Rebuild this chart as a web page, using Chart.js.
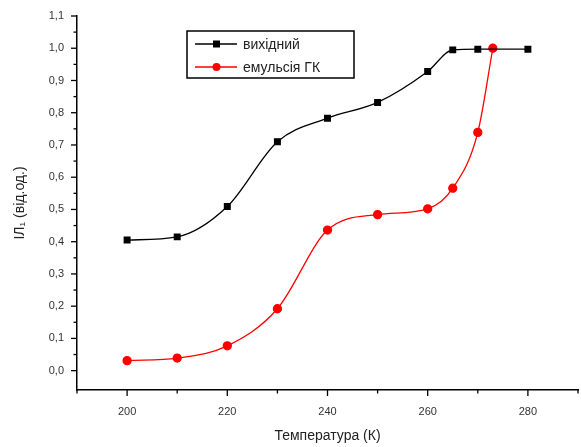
<!DOCTYPE html>
<html>
<head>
<meta charset="utf-8">
<script src="https://cdn.jsdelivr.net/npm/chart.js@4.4.1/dist/chart.umd.min.js"></script>
<style>
  body { margin: 0; background: #fff; }
  #wrap { width: 581px; height: 447px; position: relative; }
</style>
</head>
<body>
<div id="wrap"><canvas id="myChart"></canvas></div>
<script>
// DATA
const tempOrig = [200, 210, 220, 230, 240, 250, 260, 265, 270, 280];
const valOrig = [0.405, 0.415, 0.509, 0.71, 0.783, 0.832, 0.928, 0.995, 0.997, 0.997];
const tempEmul = [200, 210, 220, 230, 240, 250, 260, 265, 270, 273];
const valEmul = [0.031, 0.039, 0.077, 0.192, 0.436, 0.484, 0.502, 0.566, 0.739, 1.0];
const seriesNames = ["вихідний", "емульсія ГК"];
const xLabelTicks = [200, 220, 240, 260, 280];

function toPoints(xs, ys) {
  return xs.map((x, i) => ({ x: x, y: ys[i] }));
}

// custom ticks (major + minor) drawn from the scales
const tickPlugin = {
  id: "tickMarks",
  afterDraw(chart) {
    const ctx = chart.ctx;
    const xs = chart.scales.x, ys = chart.scales.y;
    ctx.save();
    ctx.strokeStyle = "#000";
    ctx.lineWidth = 1.3;
    ys.ticks.forEach(t => {
      const v = t.value;
      if (v < -0.001) return;
      const major = Math.abs(v * 10 - Math.round(v * 10)) < 1e-6;
      const py = ys.getPixelForValue(v);
      ctx.beginPath();
      ctx.moveTo(xs.left, py);
      ctx.lineTo(xs.left - (major ? 6 : 3.5), py);
      ctx.stroke();
    });
    xs.ticks.forEach(t => {
      const v = t.value;
      const major = xLabelTicks.includes(v);
      const px = xs.getPixelForValue(v);
      ctx.beginPath();
      ctx.moveTo(px, ys.bottom);
      ctx.lineTo(px, ys.bottom + (major ? 6 : 3.5));
      ctx.stroke();
    });
    ctx.restore();
  }
};

// legend box inside the plot
const legendPlugin = {
  id: "boxLegend",
  afterDraw(chart) {
    const ctx = chart.ctx;
    const left = 187, top = 31, w = 167, h = 47;
    ctx.save();
    ctx.strokeStyle = "#000";
    ctx.lineWidth = 1.5;
    ctx.strokeRect(left, top, w, h);
    const rows = [top + 13, top + 36];
    chart.data.datasets.forEach((ds, i) => {
      const y = rows[i];
      ctx.strokeStyle = ds.borderColor;
      ctx.lineWidth = 1.3;
      ctx.beginPath();
      ctx.moveTo(left + 8, y);
      ctx.lineTo(left + 50, y);
      ctx.stroke();
      ctx.fillStyle = ds.pointBackgroundColor;
      if (ds.pointStyle === "rect") {
        ctx.fillRect(left + 26, y - 3.5, 7, 7);
      } else {
        ctx.beginPath();
        ctx.arc(left + 29.5, y, 4, 0, Math.PI * 2);
        ctx.fill();
      }
      ctx.fillStyle = "#222";
      ctx.font = "14px 'Liberation Sans', Arial, sans-serif";
      ctx.textBaseline = "middle";
      ctx.fillText(ds.label, left + 56, y + 1);
    });
    ctx.restore();
  }
};

const ctx = document.getElementById("myChart").getContext("2d");
new Chart(ctx, {
  type: "line",
  data: {
    datasets: [
      {
        label: seriesNames[0],
        data: toPoints(tempOrig, valOrig),
        borderColor: "#000",
        pointBackgroundColor: "#000",
        pointBorderColor: "#000",
        pointStyle: "rect",
        pointRadius: 4,
        borderWidth: 1.3,
        cubicInterpolationMode: "monotone"
      },
      {
        label: seriesNames[1],
        data: toPoints(tempEmul, valEmul),
        borderColor: "#ff0000",
        pointBackgroundColor: "#ff0000",
        pointBorderColor: "#ff0000",
        pointStyle: "circle",
        pointRadius: 4,
        borderWidth: 1.3,
        cubicInterpolationMode: "monotone"
      }
    ]
  },
  options: {
    responsive: true,
    maintainAspectRatio: false,
    animation: false,
    layout: { autoPadding: false, padding: { top: 16, right: 3, left: 0, bottom: 0 } },
    plugins: {
      legend: { display: false },
      tooltip: { enabled: false }
    },
    scales: {
      x: {
        type: "linear",
        min: 190,
        max: 290,
        afterFit: s => { s.height = 57; s.paddingRight = 0; s.paddingLeft = 0; },
        border: { display: true, color: "#000", width: 1.5 },
        grid: { drawOnChartArea: false, tickLength: 7, tickColor: "transparent" },
        ticks: {
          stepSize: 10,
          padding: 8,
          maxRotation: 0,
          autoSkip: false,
          color: "#333",
          font: { family: "'Liberation Sans', Arial, sans-serif", size: 11 },
          callback: v => (xLabelTicks.includes(v) ? String(v) : "")
        },
        title: {
          display: true,
          text: "Температура (К)",
          color: "#222",
          padding: { top: 0, bottom: 2 },
          font: { family: "'Liberation Sans', Arial, sans-serif", size: 14 }
        }
      },
      y: {
        min: -0.06,
        max: 1.1,
        afterFit: s => { s.width = 77; },
        border: { display: true, color: "#000", width: 1.5 },
        grid: { drawOnChartArea: false, tickLength: 7, tickColor: "transparent" },
        ticks: {
          stepSize: 0.05,
          padding: 6,
          autoSkip: false,
          color: "#333",
          font: { family: "'Liberation Sans', Arial, sans-serif", size: 11 },
          callback: v => {
            if (v < -0.001) return "";
            if (Math.abs(v * 10 - Math.round(v * 10)) > 1e-6) return "";
            return v.toFixed(1).replace(".", ",");
          }
        },
        title: {
          display: true,
          text: "IЛ₁ (від.од.)",
          color: "#222",
          padding: { top: 12, bottom: 0 },
          font: { family: "'Liberation Sans', Arial, sans-serif", size: 14 }
        }
      }
    }
  },
  plugins: [tickPlugin, legendPlugin]
});
</script>
</body>
</html>
